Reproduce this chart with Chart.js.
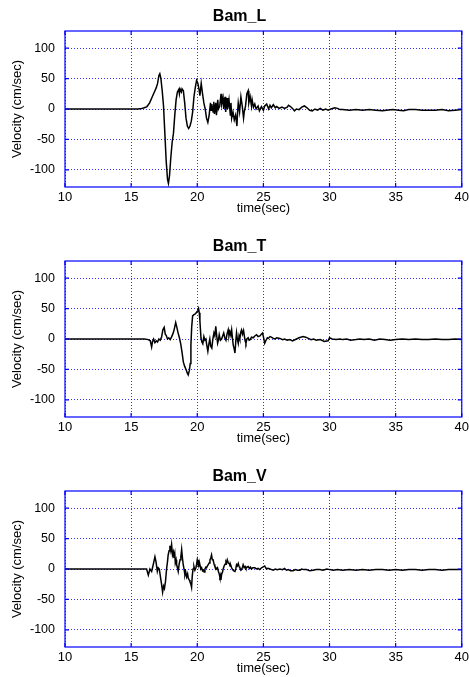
<!DOCTYPE html>
<html>
<head>
<meta charset="utf-8">
<script src="https://cdn.jsdelivr.net/npm/chart.js@4/dist/chart.umd.min.js"></script>
<style>
  body { margin: 0; background: #fff; }
  canvas { display: block; }
</style>
</head>
<body>
<canvas id="chartL" width="469" height="230"></canvas>
<canvas id="chartT" width="469" height="230"></canvas>
<canvas id="chartV" width="469" height="230"></canvas>
<script>
// Axis ticks
const xTicks = [10, 15, 20, 25, 30, 35, 40];
const yTicks = [-100, -50, 0, 50, 100];
const titles = ['Bam_L', 'Bam_T', 'Bam_V'];

// Bam_L velocity record (sec, cm/sec)
const lTime = [10, 15, 15.5, 15.8, 16.0, 16.2, 16.4, 16.6, 16.8, 16.9, 17.0, 17.1, 17.17, 17.25, 17.35, 17.45, 17.55, 17.65, 17.75, 17.82,
  17.9, 18.0, 18.1, 18.2, 18.3, 18.4, 18.5, 18.6, 18.65, 18.7, 18.8, 18.85, 18.95, 19.05, 19.15, 19.25, 19.35, 19.45, 19.55, 19.65,
  19.75, 19.85, 19.95, 20.05, 20.15, 20.2, 20.3, 20.4, 20.5, 20.6, 20.7, 20.8, 20.9, 21.0, 21.05, 21.1, 21.2, 21.25, 21.3, 21.4,
  21.45, 21.55, 21.6, 21.7, 21.8, 21.85, 21.95, 22.0, 22.1, 22.15, 22.25, 22.3, 22.4, 22.5, 22.55, 22.6, 22.7, 22.8, 22.9, 23.0,
  23.05, 23.1, 23.2, 23.3, 23.4, 23.5, 23.55, 23.65, 23.75, 23.85, 23.9, 24.0, 24.1, 24.15, 24.25, 24.35, 24.45, 24.6, 24.7, 24.85,
  25.0, 25.1, 25.25, 25.4, 25.5, 25.6, 25.75, 25.9, 26.0, 26.2, 26.4, 26.6, 26.8, 26.9, 27.05, 27.2, 27.35, 27.5, 27.7, 27.9,
  28.1, 28.3, 28.5, 28.7, 28.9, 29.1, 29.3, 29.5, 29.7, 29.9, 30.1, 30.4, 30.6, 30.8, 31.0, 31.5, 32.0, 32.5, 33.0, 33.5,
  34.0, 34.3, 34.8, 35.2, 35.6, 36.0, 36.5, 37.0, 37.5, 38.0, 38.5, 39.0, 39.5, 40];
const lVel = [0, 0, 0, 1, 2, 4, 10, 20, 30, 35, 42, 55, 58, 50, 30, 5, -40, -85, -115, -122,
  -110, -80, -55, -40, -10, 15, 28, 32, 25, 33, 28, 33, 30, 10, -15, -28, -32, -28, -20, -5,
  20, 35, 47, 42, 30, 22, 42, 25, 10, 0, -15, -22, -10, 10, -2, 8, -5, 12, -8, 10,
  -10, 15, 0, 5, 25, 8, 18, 0, 20, -5, 18, 0, 15, -10, 10, -15, -5, -18, -10, -28,
  -5, 10, -5, 20, 5, -15, -5, 5, 25, 30, 10, 20, 5, 15, 3, 8, 0, 5, -3, 4,
  -2, 5, 8, 0, 6, 2, 7, 2, 4, 1, 3, 1, 3, 6, 4, 1, -3, 0, -1, 3,
  5, 2, -2, -3, 0, -2, 1, -2, 0, -2, 0, 2, 1, -1, -1, -2, -1, -2, -1, -2,
  -3, -2, -1, -2, -3, -1, -1, -2, -2, -2, -1, -3, -2, -1];

// Bam_T velocity record
const tTime = [10, 15, 16.0, 16.3, 16.45, 16.55, 16.62, 16.7, 16.8, 16.9, 17.0, 17.1, 17.2, 17.3, 17.4, 17.5, 17.58, 17.65, 17.75, 17.85,
  17.95, 18.05, 18.15, 18.25, 18.37, 18.45, 18.55, 18.65, 18.75, 18.85, 18.95, 19.05, 19.15, 19.25, 19.32, 19.4, 19.47, 19.52, 19.58, 19.65,
  19.75, 19.85, 19.95, 20.05, 20.1, 20.15, 20.2, 20.28, 20.35, 20.42, 20.5, 20.58, 20.65, 20.72, 20.8, 20.88, 20.95, 21.02, 21.1, 21.18,
  21.26, 21.33, 21.4, 21.47, 21.54, 21.6, 21.66, 21.75, 21.84, 21.92, 22.0, 22.08, 22.17, 22.25, 22.34, 22.4, 22.47, 22.54, 22.6, 22.66,
  22.72, 22.78, 22.85, 22.91, 22.97, 23.03, 23.1, 23.16, 23.22, 23.3, 23.35, 23.42, 23.5, 23.56, 23.62, 23.68, 23.75, 23.85, 23.92, 24.0,
  24.1, 24.23, 24.35, 24.48, 24.6, 24.74, 24.85, 24.94, 25.02, 25.1, 25.2, 25.3, 25.37, 25.5, 25.6, 25.75, 25.87, 26.0, 26.25, 26.45,
  26.6, 26.8, 27.0, 27.2, 27.5, 27.7, 28.0, 28.2, 28.4, 28.6, 28.8, 29.0, 29.3, 29.6, 29.9, 30.0, 30.2, 30.5, 30.8, 31.0,
  31.3, 31.6, 32.0, 32.3, 32.6, 33.0, 33.4, 33.8, 34.2, 34.6, 35.0, 35.5, 36.0, 36.5, 37.0, 37.5, 38.0, 38.5, 39.0, 39.5, 40];
const tVel = [0, 0, 0, -1, -3, -13, -4, 0, -6, -3, -5, 0, -2, 3, 15, 19, 8, 6, 0, 2,
  -1, 3, 8, 15, 27, 20, 10, 2, -8, -22, -38, -45, -50, -56, -59, -52, -40, -10, 20, 38,
  40, 41, 44, 47, 50, 43, 30, 2, -5, -8, 4, -2, 0, -10, -20, -8, 0, -12, -15, 0,
  10, 5, 21, 5, -7, -2, 7, -2, 0, 5, 10, 2, -2, 8, 15, 5, 12, 6, 15, 2,
  -10, -15, -23, -5, 10, 0, -7, 5, 0, 12, 15, 8, 14, 5, -3, -7, 0, 2, -2, -1,
  3, 2, 5, 7, 4, 5, 8, 10, 2, -7, -2, 2, 1, 4, 3, 1, 0, 2, 1, -1,
  0, -2, -1, -3, 0, 2, 4, 3, 1, -1, 0, -2, -1, -4, -3, 2, 0, -1, 0, -1,
  0, -2, -1, 0, -1, 0, -2, 0, -1, -2, -1, 0, -1, 0, -1, -1, 0, -1, -1, 0, -1];

// Bam_V velocity record
const vTime = [10, 15, 16.17, 16.3, 16.42, 16.55, 16.67, 16.8, 16.88, 16.98, 17.05, 17.13, 17.23, 17.3, 17.38, 17.45, 17.52, 17.6, 17.68, 17.75,
  17.8, 17.87, 17.93, 18.0, 18.06, 18.13, 18.2, 18.24, 18.3, 18.34, 18.4, 18.44, 18.5, 18.56, 18.63, 18.7, 18.76, 18.82, 18.88, 18.94,
  19.0, 19.07, 19.13, 19.2, 19.27, 19.32, 19.4, 19.45, 19.52, 19.57, 19.62, 19.68, 19.75, 19.82, 19.9, 19.95, 20.0, 20.05, 20.1, 20.15,
  20.2, 20.27, 20.33, 20.4, 20.45, 20.52, 20.58, 20.65, 20.7, 20.77, 20.83, 20.9, 20.96, 21.02, 21.08, 21.14, 21.2, 21.27, 21.33, 21.4,
  21.46, 21.53, 21.6, 21.66, 21.71, 21.76, 21.79, 21.85, 21.91, 21.96, 22.03, 22.1, 22.17, 22.22, 22.27, 22.35, 22.42, 22.48, 22.52, 22.6,
  22.67, 22.76, 22.85, 22.91, 22.97, 23.03, 23.1, 23.16, 23.22, 23.3, 23.35, 23.42, 23.47, 23.55, 23.62, 23.68, 23.76, 23.85, 23.95, 24.02,
  24.1, 24.2, 24.36, 24.48, 24.6, 24.72, 24.86, 24.95, 25.02, 25.1, 25.18, 25.24, 25.35, 25.5, 25.62, 25.74, 25.9, 26.05, 26.25, 26.45,
  26.6, 26.75, 26.9, 27.05, 27.25, 27.4, 27.6, 27.76, 27.9, 28.05, 28.26, 28.5, 28.76, 29.0, 29.27, 29.5, 29.8, 30.0, 30.3, 30.6,
  31.0, 31.5, 32.0, 32.5, 33.0, 33.5, 34.0, 34.5, 35.0, 35.5, 36.0, 36.5, 37.0, 37.5, 38.0, 38.5, 39.0, 39.5, 40];
const vVel = [0, 0, 0, -10, 0, -4, 7, 20, 12, -4, 2, 0, -15, -25, -38, -28, -32, -20, 0, 12,
  23, 30, 38, 30, 40, 23, 28, 18, 25, 10, 15, 7, 2, -4, 8, 15, 20, 32, 18, 7,
  0, -10, -5, -13, -8, -15, -18, -21, -25, -30, -12, 0, 4, -2, 2, 8, 15, 10, 12, 5,
  7, 0, 2, -3, -2, -5, 0, 3, 2, 5, 7, 10, 15, 18, 23, 15, 15, 8, 4, 2,
  0, 2, -4, -8, -13, -10, -18, -8, -5, 0, 5, 8, 12, 10, 15, 10, 9, 5, 7, 2,
  -1, -3, -4, 0, 7, 5, 9, 4, 2, -2, -1, 3, 7, 2, 4, 1, 3, 4, 1, 3,
  0, 2, 2, 0, 1, -1, 2, 3, 4, 5, 2, 0, 1, 0, -1, -2, 0, -1, 0, -1,
  1, -2, -1, -3, -3, -1, -2, -2, 0, -1, -1, -3, -2, -1, -1, -2, 0, -1, -2, -1,
  -2, -1, -2, -1, -2, -1, -1, -2, -1, -2, -1, -1, -2, -1, -1, -2, -1, -1, -1];

const fontFamily = '"Liberation Sans", Arial, Helvetica, sans-serif';
Chart.defaults.font.family = fontFamily;
Chart.defaults.color = '#000';

// blue box with inward ticks, like the matlab axes
const boxPlugin = {
    id: 'box',
    afterDatasetsDraw(chart) {
        const { ctx, chartArea: a, scales: { x, y } } = chart;
        ctx.save();
        ctx.strokeStyle = '#0000ff';
        ctx.lineWidth = 1.2;
        ctx.strokeRect(a.left, a.top, a.right - a.left, a.bottom - a.top);
        ctx.beginPath();
        xTicks.forEach(v => {
            const px = x.getPixelForValue(v);
            ctx.moveTo(px, a.bottom); ctx.lineTo(px, a.bottom - 4);
            ctx.moveTo(px, a.top); ctx.lineTo(px, a.top + 4);
        });
        yTicks.forEach(v => {
            const py = y.getPixelForValue(v);
            ctx.moveTo(a.left, py); ctx.lineTo(a.left + 4, py);
            ctx.moveTo(a.right, py); ctx.lineTo(a.right - 4, py);
        });
        ctx.stroke();
        ctx.restore();
    }
};

function makeChart(id, title, times, vels) {
    const points = times.map((t, i) => ({ x: t, y: vels[i] }));
    return new Chart(document.getElementById(id), {
        type: 'line',
        data: {
            datasets: [{
                data: points,
                borderColor: '#000',
                borderWidth: 1.5,
                pointRadius: 0,
                tension: 0
            }]
        },
        options: {
            responsive: false,
            animation: false,
            layout: { padding: { left: 10, right: 0, top: 0, bottom: 14 } },
            plugins: {
                legend: { display: false },
                tooltip: { enabled: false },
                title: {
                    display: true,
                    text: title,
                    color: '#000',
                    font: { size: 16, weight: 'bold', lineHeight: 1.2 },
                    padding: { top: 7, bottom: 4.8 }
                }
            },
            scales: {
                x: {
                    type: 'linear',
                    min: 10,
                    max: 40,
                    afterBuildTicks: s => { s.ticks = xTicks.map(v => ({ value: v })); },
                    afterFit: s => { s.height = 29; },
                    // outward ticks kept invisible, they only space the labels
                    grid: { color: 'rgba(0,0,255,0.8)', lineWidth: 1, drawTicks: true, tickLength: 3, tickColor: 'rgba(0,0,0,0)' },
                    border: { display: false, dash: [1, 2] },
                    ticks: { color: '#000', font: { size: 13 }, padding: 0, maxRotation: 0 },
                    title: { display: true, text: 'time(sec)', color: '#000', font: { size: 13 }, padding: 0 }
                },
                y: {
                    type: 'linear',
                    min: -128,
                    max: 128,
                    afterBuildTicks: s => { s.ticks = yTicks.map(v => ({ value: v })); },
                    afterFit: s => { s.width = 55; },
                    grid: { color: 'rgba(0,0,255,0.8)', lineWidth: 1, drawTicks: false },
                    border: { display: false, dash: [1, 2] },
                    ticks: { color: '#000', font: { size: 12.5 }, padding: 10 },
                    title: { display: true, text: 'Velocity (cm/sec)', color: '#000', font: { size: 13 }, padding: 0 }
                }
            }
        },
        plugins: [boxPlugin]
    });
}

makeChart('chartL', titles[0], lTime, lVel);
makeChart('chartT', titles[1], tTime, tVel);
makeChart('chartV', titles[2], vTime, vVel);
</script>
</body>
</html>
